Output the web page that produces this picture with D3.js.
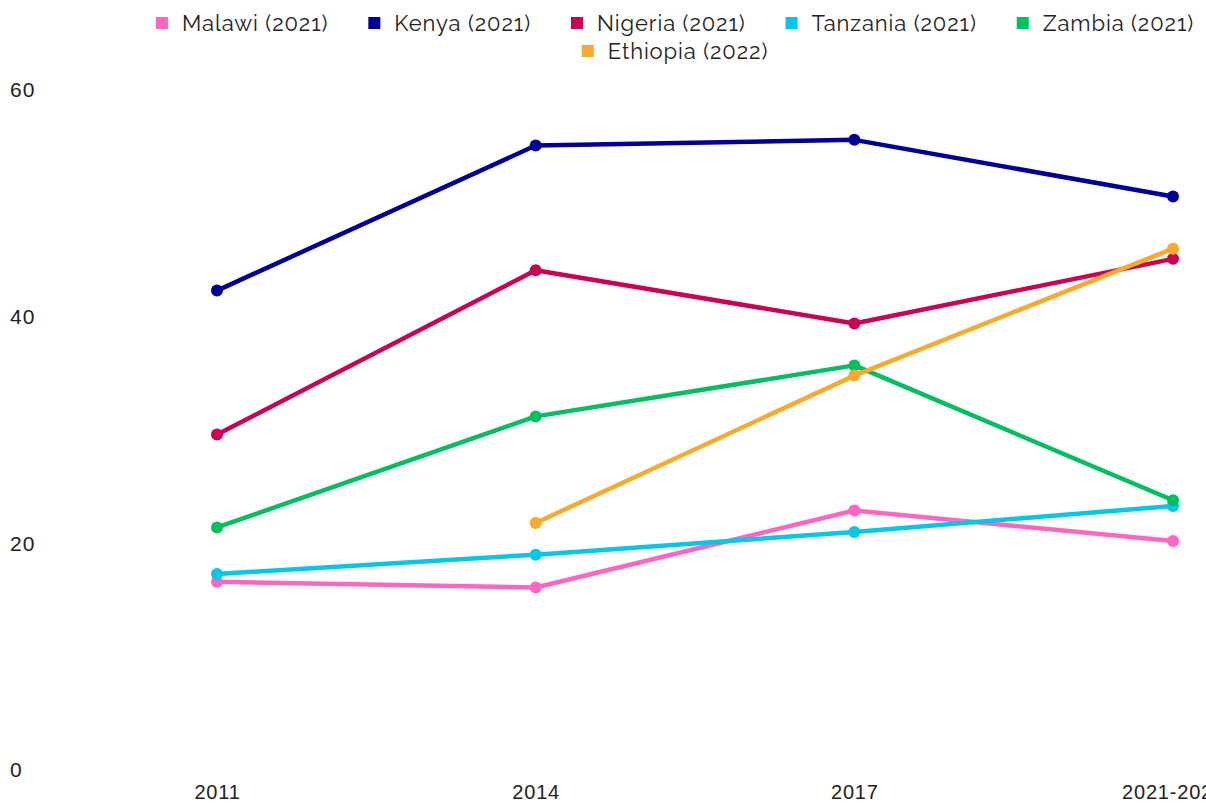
<!DOCTYPE html>
<html>
<head>
<meta charset="utf-8">
<script src="https://cdn.jsdelivr.net/npm/d3@7"></script>
<style>
  body { margin: 0; background: #fff; }
  svg { display: block; font-family: Raleway, Lato, "Open Sans", sans-serif; }
</style>
</head>
<body>
<div id="chart"></div>
<script>
let years = ["2011", "2014", "2017", "2021-2022"]
let countries = ["Malawi (2021)", "Kenya (2021)", "Nigeria (2021)", "Tanzania (2021)", "Zambia (2021)", "Ethiopia (2022)"]
let colors = ["#ff66c4", "#000099", "#cc0055", "#00c8e8", "#00bf5f", "#f9aa2c"]
let yTicks = [0, 20, 40, 60]

let malawi   = [16.6, 16.1, 22.9, 20.2]
let kenya    = [42.3, 55.1, 55.6, 50.6]
let nigeria  = [29.6, 44.1, 39.4, 45.1]
let tanzania = [17.3, 19.0, 21.0, 23.3]
let zambia   = [21.4, 31.2, 35.7, 23.8]
let ethiopia = [null, 21.8, 34.8, 46.0]

let series = [malawi, kenya, nigeria, tanzania, zambia, ethiopia]

var width = 1206, height = 805

var svg = d3.select("#chart")
    .append("svg")
        .attr("width", width)
        .attr("height", height)

let xScale = d3.scalePoint()
    .domain(years)
    .range([217, 1173])

let yScale = d3.scaleLinear()
    .domain([0, 60])
    .range([770, 90])

// y axis labels, no line
let yAxis = svg.append("g")
    .attr("transform", "translate(10,0)")
    .call(d3.axisLeft(yScale).tickValues(yTicks).tickSize(0).tickPadding(0))
yAxis.select(".domain").remove()
yAxis.selectAll("text")
    .attr("text-anchor", "start")
    .attr("x", 0)
    .attr("font-size", 21)
    .attr("letter-spacing", 1)
    .attr("font-family", null)
    .attr("fill", "#222")

let xAxis = svg.append("g")
    .attr("transform", "translate(0,799)")
    .call(d3.axisBottom(xScale).tickSize(0).tickPadding(0))
xAxis.select(".domain").remove()
xAxis.selectAll("text")
    .attr("dy", null)
    .attr("y", 0)
    .attr("font-size", 20)
    .attr("letter-spacing", 0.8)
    .attr("font-family", null)
    .attr("fill", "#222")

let line = d3.line()
    .defined(d => d != null)
    .x((d, i) => xScale(years[i]))
    .y(d => yScale(d))

let body = svg.append("g")

series.forEach((s, k) => {
    body.append("path")
        .datum(s)
        .attr("fill", "none")
        .attr("stroke", colors[k])
        .attr("stroke-width", 4.5)
        .attr("stroke-linejoin", "round")
        .attr("d", line)

    body.selectAll(".dot" + k)
        .data(s.map((v, i) => ({v: v, i: i})).filter(d => d.v != null))
        .enter()
        .append("circle")
            .attr("cx", d => xScale(years[d.i]))
            .attr("cy", d => yScale(d.v))
            .attr("r", 6)
            .attr("fill", colors[k])
})

// legend, centered rows
let legend = svg.append("g")
let rows = [[0, 1, 2, 3, 4], [5]]
let rowY = [23, 51]
let center = 675
rows.forEach((row, r) => {
    let items = row.map(k => {
        let g = legend.append("g")
        g.append("rect")
            .attr("width", 12).attr("height", 12)
            .attr("y", -6)
            .attr("fill", colors[k])
        let t = g.append("text")
            .attr("x", 26)
            .attr("dy", "0.35em")
            .attr("font-size", 22)
            .attr("letter-spacing", 0.9)
            .attr("fill", "#222")
            .text(countries[k])
        return {g: g, w: 26 + t.node().getComputedTextLength()}
    })
    let gap = 40
    let total = d3.sum(items, d => d.w) + gap * (items.length - 1)
    let x = center - total / 2
    items.forEach(it => {
        it.g.attr("transform", `translate(${x},${rowY[r]})`)
        x += it.w + gap
    })
})
</script>
</body>
</html>
